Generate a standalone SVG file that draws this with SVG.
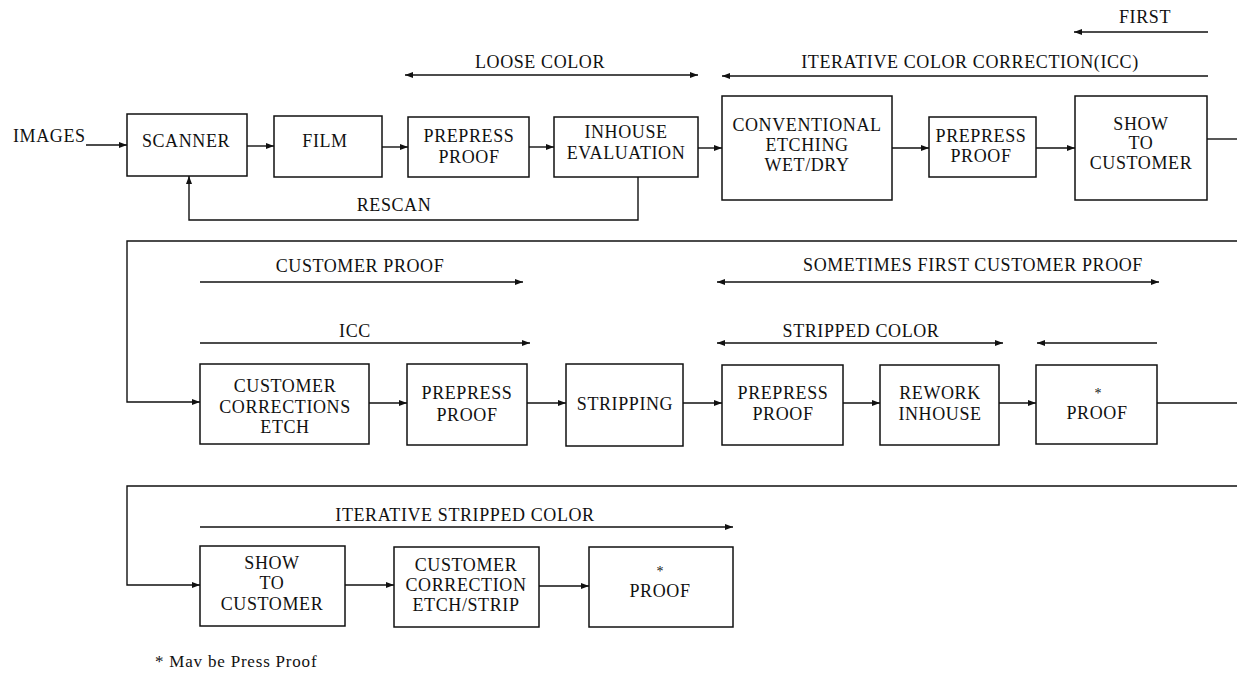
<svg xmlns="http://www.w3.org/2000/svg" width="1237" height="674" viewBox="0 0 1237 674">
<style>
text{font-family:"Liberation Serif","DejaVu Serif",serif;font-size:18px;letter-spacing:0.6px;fill:#111}
.c{text-anchor:middle}
.ast{font-size:14px;letter-spacing:0}
.box{fill:#fff;stroke:#111;stroke-width:1.5}
.ln{fill:none;stroke:#111;stroke-width:1.4}
.fn{font-size:17px;letter-spacing:0.8px}
</style>
<defs>
<marker id="ah" viewBox="0 0 8 6" refX="8" refY="3" markerWidth="8" markerHeight="6" markerUnits="userSpaceOnUse" orient="auto-start-reverse">
<path d="M0,0 L8,3 L0,6 z" fill="#111"/>
</marker>
</defs>
<rect width="1237" height="674" fill="#fff"/>

<g id="connectors">
<!-- row 1 -->
<line class="ln" x1="86" y1="145" x2="127" y2="145" marker-end="url(#ah)"/>
<line class="ln" x1="247" y1="146" x2="274" y2="146" marker-end="url(#ah)"/>
<line class="ln" x1="382" y1="147" x2="408" y2="147" marker-end="url(#ah)"/>
<line class="ln" x1="529" y1="147" x2="554" y2="147" marker-end="url(#ah)"/>
<line class="ln" x1="698" y1="148" x2="722" y2="148" marker-end="url(#ah)"/>
<line class="ln" x1="892" y1="148" x2="929" y2="148" marker-end="url(#ah)"/>
<line class="ln" x1="1036" y1="148" x2="1075" y2="148" marker-end="url(#ah)"/>
<line class="ln" x1="1207" y1="139" x2="1237" y2="139"/>
<polyline class="ln" points="638,177 638,220 189,220 189,176" marker-end="url(#ah)"/>
<!-- row 1 spans -->
<line class="ln" x1="405" y1="75" x2="698" y2="75" marker-start="url(#ah)" marker-end="url(#ah)"/>
<line class="ln" x1="1208" y1="76" x2="722" y2="76" marker-end="url(#ah)"/>
<line class="ln" x1="1208" y1="32" x2="1074" y2="32" marker-end="url(#ah)"/>
<!-- row 2 -->
<polyline class="ln" points="1237,241 127,241 127,402 200,402" marker-end="url(#ah)"/>
<line class="ln" x1="369" y1="403" x2="407" y2="403" marker-end="url(#ah)"/>
<line class="ln" x1="527" y1="403" x2="566" y2="403" marker-end="url(#ah)"/>
<line class="ln" x1="683" y1="403" x2="722" y2="403" marker-end="url(#ah)"/>
<line class="ln" x1="843" y1="403" x2="880" y2="403" marker-end="url(#ah)"/>
<line class="ln" x1="999" y1="403" x2="1036" y2="403" marker-end="url(#ah)"/>
<line class="ln" x1="1157" y1="403" x2="1237" y2="403"/>
<!-- row 2 spans -->
<line class="ln" x1="200" y1="282" x2="523" y2="282" marker-end="url(#ah)"/>
<line class="ln" x1="717" y1="282" x2="1159" y2="282" marker-start="url(#ah)" marker-end="url(#ah)"/>
<line class="ln" x1="200" y1="343" x2="530" y2="343" marker-end="url(#ah)"/>
<line class="ln" x1="717" y1="343" x2="1003" y2="343" marker-start="url(#ah)" marker-end="url(#ah)"/>
<line class="ln" x1="1157" y1="343" x2="1037" y2="343" marker-end="url(#ah)"/>
<!-- row 3 -->
<polyline class="ln" points="1237,486 127,486 127,585 200,585" marker-end="url(#ah)"/>
<line class="ln" x1="345" y1="585" x2="394" y2="585" marker-end="url(#ah)"/>
<line class="ln" x1="539" y1="586" x2="589" y2="586" marker-end="url(#ah)"/>
<line class="ln" x1="200" y1="527" x2="733" y2="527" marker-end="url(#ah)"/>
</g>

<g id="labels">
<text x="13" y="142">IMAGES</text>
<text class="c" x="540" y="68">LOOSE COLOR</text>
<text class="c" x="970" y="68">ITERATIVE COLOR CORRECTION(ICC)</text>
<text class="c" x="1145" y="23">FIRST</text>
<text class="c" x="394" y="211">RESCAN</text>
<text class="c" x="360" y="272">CUSTOMER PROOF</text>
<text class="c" x="973" y="271">SOMETIMES FIRST CUSTOMER PROOF</text>
<text class="c" x="355" y="337">ICC</text>
<text class="c" x="861" y="337">STRIPPED COLOR</text>
<text class="c" x="465" y="521">ITERATIVE STRIPPED COLOR</text>
<text class="fn" x="155" y="667">* Mav be Press Proof</text>
</g>

<g id="scanner"><rect class="box" x="127" y="114" width="120" height="62"/><text class="c" x="186" y="147">SCANNER</text></g>
<g id="film"><rect class="box" x="274" y="116" width="108" height="61"/><text class="c" x="325" y="147">FILM</text></g>
<g id="prepress1"><rect class="box" x="408" y="117" width="121" height="60"/><text class="c" x="469" y="142">PREPRESS</text><text class="c" x="469" y="163">PROOF</text></g>
<g id="inhouse-eval"><rect class="box" x="554" y="117" width="144" height="60"/><text class="c" x="626" y="138">INHOUSE</text><text class="c" x="626" y="159">EVALUATION</text></g>
<g id="conventional"><rect class="box" x="722" y="96" width="170" height="104"/><text class="c" x="807" y="131">CONVENTIONAL</text><text class="c" x="807" y="151">ETCHING</text><text class="c" x="807" y="171">WET/DRY</text></g>
<g id="prepress2"><rect class="box" x="929" y="117" width="107" height="60"/><text class="c" x="981" y="142">PREPRESS</text><text class="c" x="981" y="162">PROOF</text></g>
<g id="show1"><rect class="box" x="1075" y="96" width="132" height="104"/><text class="c" x="1141" y="130">SHOW</text><text class="c" x="1141" y="149">TO</text><text class="c" x="1141" y="169">CUSTOMER</text></g>

<g id="cust-corr"><rect class="box" x="200" y="364" width="169" height="80"/><text class="c" x="285" y="392">CUSTOMER</text><text class="c" x="285" y="413">CORRECTIONS</text><text class="c" x="285" y="433">ETCH</text></g>
<g id="prepress3"><rect class="box" x="407" y="364" width="120" height="81"/><text class="c" x="467" y="399">PREPRESS</text><text class="c" x="467" y="421">PROOF</text></g>
<g id="stripping"><rect class="box" x="566" y="364" width="117" height="82"/><text class="c" x="625" y="410">STRIPPING</text></g>
<g id="prepress4"><rect class="box" x="722" y="365" width="121" height="80"/><text class="c" x="783" y="399">PREPRESS</text><text class="c" x="783" y="420">PROOF</text></g>
<g id="rework"><rect class="box" x="880" y="365" width="119" height="80"/><text class="c" x="940" y="399">REWORK</text><text class="c" x="940" y="420">INHOUSE</text></g>
<g id="proof1"><rect class="box" x="1036" y="365" width="121" height="79"/><text class="c ast" x="1098" y="398">*</text><text class="c" x="1097" y="419">PROOF</text></g>

<g id="show2"><rect class="box" x="200" y="546" width="145" height="80"/><text class="c" x="272" y="569">SHOW</text><text class="c" x="272" y="589">TO</text><text class="c" x="272" y="610">CUSTOMER</text></g>
<g id="cust-corr2"><rect class="box" x="394" y="547" width="145" height="80"/><text class="c" x="466" y="571">CUSTOMER</text><text class="c" x="466" y="591">CORRECTION</text><text class="c" x="466" y="611">ETCH/STRIP</text></g>
<g id="proof2"><rect class="box" x="589" y="547" width="144" height="80"/><text class="c ast" x="660" y="576">*</text><text class="c" x="660" y="597">PROOF</text></g>
</svg>
